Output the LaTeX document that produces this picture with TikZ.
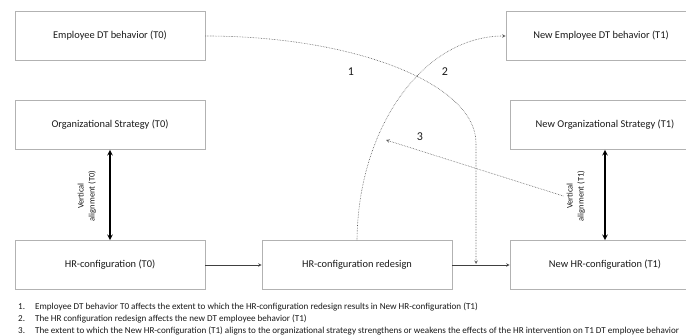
\documentclass[tikz,border=0pt]{standalone}
\usepackage{fontspec}
\setmainfont{Carlito}
\usetikzlibrary{arrows,positioning}

\begin{document}
\begin{tikzpicture}[
        x=1pt, y=-1pt, font=\fontsize{10.4}{12}\selectfont, text=black!90,
        box/.style={rectangle, draw=black!30, line width=0.6pt, minimum width=190pt, minimum height=49pt, inner sep=0pt},
        arr/.style={->, >=stealth, line width=0.6pt, black!75},
        vline/.style={<->, >=stealth, line width=1.5pt},
        dots/.style={->, >=stealth, densely dotted, line width=0.6pt, black!65},
        vlabel/.style={rotate=90, align=center, font=\fontsize{8.5}{11}\selectfont},
        num/.style={font=\fontsize{12}{13}\selectfont}
    ]
        \useasboundingbox (0,0) rectangle (686,336);
        % T0 column
        \node[box] (emp0) at (110,36) {Employee DT behavior (T0)};
        \node[box] (org0) at (110,125) {Organizational Strategy (T0)};
        \node[box] (hr0) at (110,265) {HR-configuration (T0)};
        % intervention
        \node[box] (redesign) at (357,265) {HR-configuration redesign};
        % T1 column
        \node[box] (emp1) at (601,36) {New Employee DT behavior (T1)};
        \node[box] (org1) at (605,125) {New Organizational Strategy (T1)};
        \node[box] (hr1) at (605,265) {New HR-configuration (T1)};

        \node[vlabel] (va0) at (87,196) {Vertical\\alignment (T0)};
        \node[vlabel] (va1) at (576,196) {Vertical\\alignment (T1)};

        \coordinate (m1) at (476,264);
        \coordinate (c3) at (386,140);

        \draw[arr] (hr0) -- (redesign);
        \draw[arr] (redesign) -- (hr1);
        \draw[vline] (org0) -- (hr0);
        \draw[vline] (org1) -- (hr1);

        \draw[dots] (emp0.east) .. controls (355,36) and (476,84) .. (476,143) -- (m1);
        \draw[dots] (redesign.north) .. controls (358,128) and (423,36) .. (emp1.west);
        \draw[dots] (va1.north) -- (c3);

        \node[num] (n1) at (351,72) {1};
        \node[num] (n2) at (445,72) {2};
        \node[num] (n3) at (420,137) {3};

        \node[anchor=west, align=left, inner sep=0pt, font=\fontsize{9.1}{11.7}\selectfont] (notes) at (18,319) {%
            \makebox[17pt][l]{1.}Employee DT behavior T0 affects the extent to which the HR-configuration redesign results in New HR-configuration (T1)\\
            \makebox[17pt][l]{2.}The HR configuration redesign affects the new DT employee behavior (T1)\\
            \makebox[17pt][l]{3.}The extent to which the New HR-configuration (T1) aligns to the organizational strategy strengthens or weakens the effects of the HR intervention on T1 DT employee behavior};
    \end{tikzpicture}
\end{document}
